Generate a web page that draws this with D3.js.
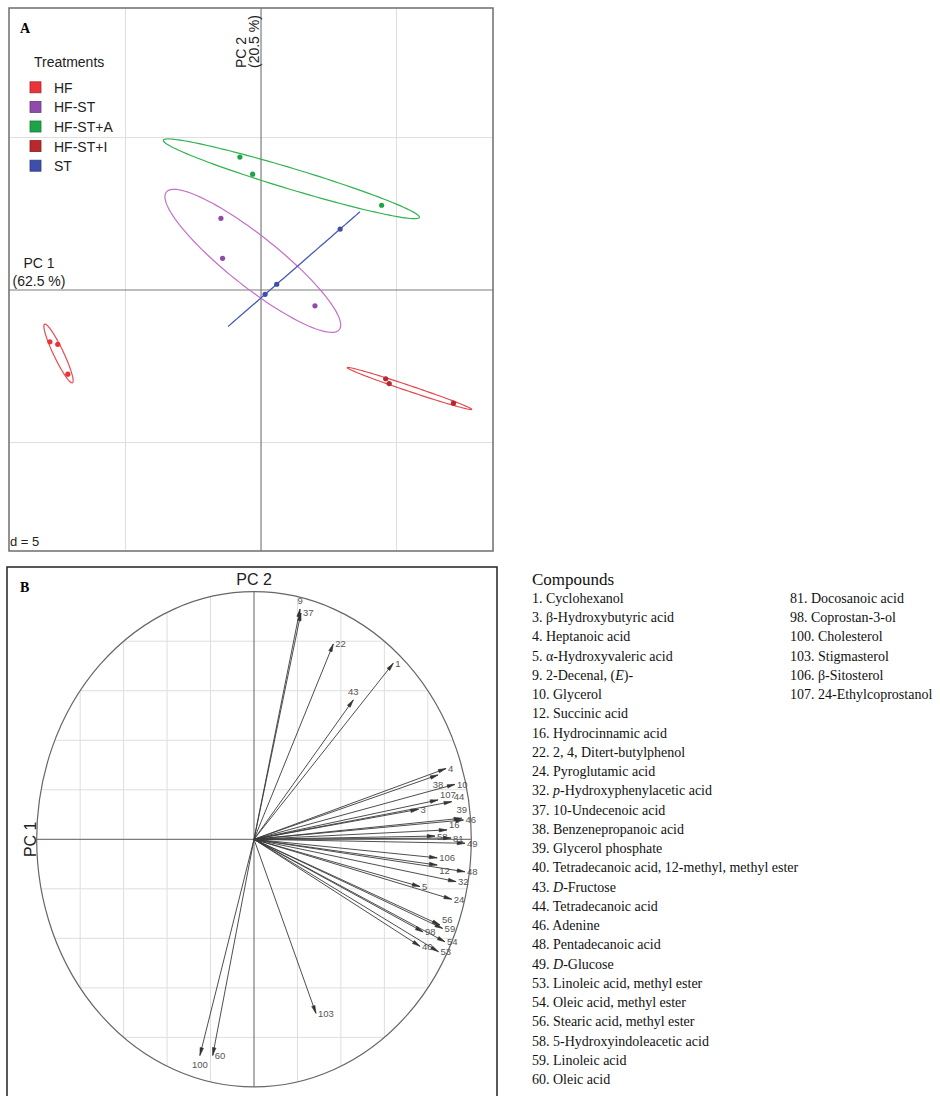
<!DOCTYPE html>
<html lang="en">
  <head>
    <meta charset="UTF-8" />
    <script src="https://d3js.org/d3.v7.min.js"></script>
    <style>
      body { margin: 0; background: #fff; }
      text { font-family: "Liberation Sans", Arial, sans-serif; }
      .serif { font-family: "Liberation Serif", "Times New Roman", serif; }
      .grid { stroke: #dedede; stroke-width: 1; fill: none; }
      .axis0 { stroke: #7c7c7c; stroke-width: 1.2; fill: none; }
    </style>
    <title>PCA scores and loadings</title>
  </head>
  <body>
    <svg id="fig" width="940" height="1096"></svg>
    <script>
      // ---------- data: panel A (scores) ----------
      const treatments = ["HF", "HF-ST", "HF-ST+A", "HF-ST+I", "ST"];
      const treatmentColors = ["#e8333a", "#8e4bab", "#1ea34a", "#b8282c", "#3d4fa8"];
      const ellipseColors = ["#ea4a50", "#c470c8", "#2fb34e", "#e4474c", "#4656b8"];
      // PC1, PC2 of the three samples per group
      const scoresHF = [[-7.79, -1.70], [-7.50, -1.78], [-7.13, -2.76]];
      const scoresHFST = [[-1.48, 2.35], [-1.42, 1.04], [1.99, -0.52]];
      const scoresHFSTA = [[-0.78, 4.36], [-0.31, 3.80], [4.45, 2.78]];
      const scoresHFSTI = [[4.60, -2.91], [4.73, -3.07], [7.10, -3.71]];
      const scoresST = [[2.92, 2.00], [0.58, 0.19], [0.15, -0.14]];
      const scoreGroups = [scoresHF, scoresHFST, scoresHFSTA, scoresHFSTI, scoresST];
      const pc1LimA = [-9.3, 8.56];
      const pc2LimA = [-8.56, 9.25];
      const gridA = [-5, 5];

      // ---------- data: panel B (loadings) ----------
      const loadingIds = ["1", "3", "4", "5", "9", "10", "12", "16", "22", "24", "32",
        "37", "38", "39", "40", "43", "44", "46", "48", "49", "53", "54", "56", "58",
        "59", "60", "81", "98", "100", "103", "106", "107"];
      const loadingPC1 = [0.641, 0.757, 0.884, 0.764, 0.212, 0.925, 0.843, 0.888, 0.365, 0.910, 0.930,
        0.216, 0.847, 0.956, 0.764, 0.457, 0.910, 0.964, 0.971, 0.971, 0.849, 0.879, 0.856, 0.833,
        0.868, -0.190, 0.907, 0.778, -0.249, 0.285, 0.843, 0.847];
      const loadingPC2 = [0.711, 0.121, 0.286, -0.191, 0.930, 0.222, -0.104, 0.038, 0.789, -0.242, -0.171,
        0.914, 0.260, 0.085, -0.432, 0.563, 0.152, 0.078, -0.131, -0.016, -0.454, -0.414, -0.346, 0.013,
        -0.360, -0.873, 0.005, -0.374, -0.873, -0.703, -0.075, 0.159];
      // where the label sits relative to the arrow tip (default: right)
      const labelSide = { "9": "top", "43": "top", "100": "bottom", "38": "bottom",
        "39": "top", "56": "upright", "107": "upright", "12": "lowright",
        "16": "upright", "44": "upright" };
      const gridB = [-0.8, -0.6, -0.4, -0.2, 0.2, 0.4, 0.6, 0.8];

      // ---------- data: compound key ----------
      const compoundsCol1 = [
        "1. Cyclohexanol", "3. β-Hydroxybutyric acid", "4. Heptanoic acid",
        "5. α-Hydroxyvaleric acid", "9. 2-Decenal, (<i>E</i>)-", "10. Glycerol",
        "12. Succinic acid", "16. Hydrocinnamic acid", "22. 2, 4, Ditert-butylphenol",
        "24. Pyroglutamic acid", "32. <i>p</i>-Hydroxyphenylacetic acid", "37. 10-Undecenoic acid",
        "38. Benzenepropanoic acid", "39. Glycerol phosphate",
        "40. Tetradecanoic acid, 12-methyl, methyl ester", "43. <i>D</i>-Fructose",
        "44. Tetradecanoic acid", "46. Adenine", "48. Pentadecanoic acid", "49. <i>D</i>-Glucose",
        "53. Linoleic acid, methyl ester", "54. Oleic acid, methyl ester",
        "56. Stearic acid, methyl ester", "58. 5-Hydroxyindoleacetic acid", "59. Linoleic acid",
        "60. Oleic acid"];
      const compoundsCol2 = ["81. Docosanoic acid", "98. Coprostan-3-ol", "100. Cholesterol",
        "103. Stigmasterol", "106. β-Sitosterol", "107. 24-Ethylcoprostanol"];

      const svg = d3.select("#fig");

      // ================= panel A =================
      const boxA = { left: 9, top: 8, right: 493, bottom: 551 };
      const xA = d3.scaleLinear().domain(pc1LimA).range([boxA.left, boxA.right]);
      const yA = d3.scaleLinear().domain(pc2LimA).range([boxA.bottom, boxA.top]);
      const gA = svg.append("g").attr("id", "panelA");

      gA.selectAll("line.gx").data(gridA).join("line").attr("class", "grid")
        .attr("x1", d => xA(d)).attr("x2", d => xA(d))
        .attr("y1", boxA.top).attr("y2", boxA.bottom);
      gA.selectAll("line.gy").data(gridA).join("line").attr("class", "grid")
        .attr("y1", d => yA(d)).attr("y2", d => yA(d))
        .attr("x1", boxA.left).attr("x2", boxA.right);
      gA.append("line").attr("class", "axis0")
        .attr("x1", xA(0)).attr("x2", xA(0)).attr("y1", boxA.top).attr("y2", boxA.bottom);
      gA.append("line").attr("class", "axis0")
        .attr("y1", yA(0)).attr("y2", yA(0)).attr("x1", boxA.left).attr("x2", boxA.right);

      // ellipse from the covariance of each group (2 sd)
      function groupEllipse(pts, k) {
        const n = pts.length;
        const mx = d3.mean(pts, p => p[0]), my = d3.mean(pts, p => p[1]);
        const vx = d3.sum(pts, p => (p[0] - mx) ** 2) / n;
        const vy = d3.sum(pts, p => (p[1] - my) ** 2) / n;
        const cxy = d3.sum(pts, p => (p[0] - mx) * (p[1] - my)) / n;
        const tr = vx + vy, det = vx * vy - cxy * cxy;
        const disc = Math.sqrt(Math.max(tr * tr / 4 - det, 0));
        const l1 = tr / 2 + disc, l2 = Math.max(tr / 2 - disc, 0);
        let ex = cxy, ey = l1 - vx;
        if (Math.hypot(ex, ey) < 1e-12) { ex = 1; ey = 0; }
        const nr = Math.hypot(ex, ey); ex /= nr; ey /= nr;
        const a = k * Math.sqrt(l1), b = k * Math.sqrt(l2);
        return d3.range(0, 121).map(i => {
          const t = (2 * Math.PI * i) / 120;
          return [mx + a * Math.cos(t) * ex - b * Math.sin(t) * ey,
                  my + a * Math.cos(t) * ey + b * Math.sin(t) * ex];
        });
      }
      const ellLine = d3.line().x(d => xA(d[0])).y(d => yA(d[1]));

      gA.selectAll("path.ell").data(scoreGroups).join("path").attr("class", "ell")
        .attr("d", d => ellLine(groupEllipse(d, 2)))
        .attr("fill", "none")
        .attr("stroke", (d, i) => ellipseColors[i])
        .attr("stroke-width", 1.2);

      scoreGroups.forEach((g, i) => {
        gA.selectAll("circle.pt" + i).data(g).join("circle").attr("class", "pt" + i)
          .attr("cx", d => xA(d[0])).attr("cy", d => yA(d[1])).attr("r", 2.6)
          .attr("fill", treatmentColors[i]);
      });

      gA.append("rect").attr("x", boxA.left).attr("y", boxA.top)
        .attr("width", boxA.right - boxA.left).attr("height", boxA.bottom - boxA.top)
        .attr("fill", "none").attr("stroke", "#6e6e6e").attr("stroke-width", 1.5);

      // axis titles
      gA.append("text").attr("x", 39).attr("y", 268).attr("text-anchor", "middle")
        .attr("font-size", 14).attr("fill", "#222").text("PC 1");
      gA.append("text").attr("x", 39).attr("y", 286).attr("text-anchor", "middle")
        .attr("font-size", 14).attr("fill", "#222").text("(62.5 %)");
      gA.append("text").attr("transform", "translate(246,68) rotate(-90)")
        .attr("font-size", 14).attr("fill", "#222").text("PC 2");
      gA.append("text").attr("transform", "translate(259,68) rotate(-90)")
        .attr("font-size", 14).attr("fill", "#222").text("(20.5 %)");
      gA.append("text").attr("x", 10).attr("y", 546).attr("font-size", 13)
        .attr("fill", "#222").text("d = 5");
      gA.append("text").attr("class", "serif").attr("x", 20).attr("y", 33)
        .attr("font-size", 14).attr("font-weight", "bold").text("A");

      // legend
      const legend = gA.append("g").attr("transform", "translate(30,0)");
      legend.append("text").attr("x", 4).attr("y", 67).attr("font-size", 14)
        .attr("fill", "#222").text("Treatments");
      const rows = legend.selectAll("g.row").data(treatments).join("g").attr("class", "row")
        .attr("transform", (d, i) => `translate(0,${87.3 + i * 19.6})`);
      rows.append("rect").attr("x", 0).attr("y", -5.5).attr("width", 11).attr("height", 11)
        .attr("fill", (d, i) => treatmentColors[i])
        .attr("stroke", (d, i) => d3.color(treatmentColors[i]).darker(0.8))
        .attr("stroke-width", 0.8);
      rows.append("text").attr("x", 24).attr("y", 5.5).attr("font-size", 14)
        .attr("fill", "#222").text(d => d);

      // ================= panel B =================
      const boxB = { left: 7, top: 567, right: 497, bottom: 1110 };
      const xB = d3.scaleLinear().domain([-1, 1]).range([36.7, 471.3]);
      const yB = d3.scaleLinear().domain([-1, 1]).range([1086.9, 591.7]);
      const gB = svg.append("g").attr("id", "panelB");
      const rx = xB(1) - xB(0), ry = yB(0) - yB(1);

      svg.append("defs").append("clipPath").attr("id", "circClip")
        .append("ellipse").attr("cx", xB(0)).attr("cy", yB(0)).attr("rx", rx).attr("ry", ry);

      const gridG = gB.append("g").attr("clip-path", "url(#circClip)");
      gridG.selectAll("line.gx").data(gridB).join("line").attr("class", "grid")
        .attr("x1", d => xB(d)).attr("x2", d => xB(d)).attr("y1", yB(1)).attr("y2", yB(-1));
      gridG.selectAll("line.gy").data(gridB).join("line").attr("class", "grid")
        .attr("y1", d => yB(d)).attr("y2", d => yB(d)).attr("x1", xB(-1)).attr("x2", xB(1));
      gridG.append("line").attr("class", "axis0")
        .attr("x1", xB(0)).attr("x2", xB(0)).attr("y1", yB(1)).attr("y2", yB(-1));
      gridG.append("line").attr("class", "axis0")
        .attr("y1", yB(0)).attr("y2", yB(0)).attr("x1", xB(-1)).attr("x2", xB(1));
      gB.append("ellipse").attr("cx", xB(0)).attr("cy", yB(0)).attr("rx", rx).attr("ry", ry)
        .attr("fill", "none").attr("stroke", "#666").attr("stroke-width", 1.2);

      const loadings = loadingIds.map((id, i) => ({ id, pc1: loadingPC1[i], pc2: loadingPC2[i] }));
      const arrows = gB.selectAll("g.arrow").data(loadings).join("g").attr("class", "arrow");
      arrows.append("line")
        .attr("x1", xB(0)).attr("y1", yB(0))
        .attr("x2", d => xB(d.pc1)).attr("y2", d => yB(d.pc2))
        .attr("stroke", "#3a3a3a").attr("stroke-width", 0.9);
      arrows.append("path")
        .attr("d", d => {
          const tx = xB(d.pc1), ty = yB(d.pc2);
          const ang = Math.atan2(ty - yB(0), tx - xB(0));
          const len = 8, spread = 0.22;
          const p1 = [tx - len * Math.cos(ang - spread), ty - len * Math.sin(ang - spread)];
          const p2 = [tx - len * Math.cos(ang + spread), ty - len * Math.sin(ang + spread)];
          return `M${p1}L${tx},${ty}L${p2}Z`;
        })
        .attr("fill", "#333").attr("stroke", "#333").attr("stroke-width", 0.6);
      arrows.append("text")
        .attr("x", d => {
          const side = labelSide[d.id];
          if (side === "top" || side === "bottom") return xB(d.pc1);
          return xB(d.pc1) + 2;
        })
        .attr("y", d => {
          const side = labelSide[d.id];
          if (side === "top") return yB(d.pc2) - 5;
          if (side === "bottom") return yB(d.pc2) + 13;
          if (side === "upright") return yB(d.pc2) - 2;
          if (side === "lowright") return yB(d.pc2) + 9;
          return yB(d.pc2) + 3.5;
        })
        .attr("text-anchor", d => {
          const side = labelSide[d.id];
          return side === "top" || side === "bottom" ? "middle" : "start";
        })
        .attr("font-size", 9.5).attr("fill", "#555").text(d => d.id);

      gB.append("rect").attr("x", boxB.left).attr("y", boxB.top)
        .attr("width", boxB.right - boxB.left).attr("height", boxB.bottom - boxB.top)
        .attr("fill", "none").attr("stroke", "#222").attr("stroke-width", 1.5);
      gB.append("text").attr("x", xB(0)).attr("y", 585).attr("text-anchor", "middle")
        .attr("font-size", 16).attr("fill", "#222").text("PC 2");
      gB.append("text").attr("transform", `translate(36,${yB(0)}) rotate(-90)`)
        .attr("text-anchor", "middle").attr("font-size", 16).attr("fill", "#222").text("PC 1");
      gB.append("text").attr("class", "serif").attr("x", 20).attr("y", 592)
        .attr("font-size", 14).attr("font-weight", "bold").text("B");

      // ================= compound key =================
      const key = svg.append("g").attr("class", "serif");
      key.append("text").attr("class", "serif").attr("x", 532).attr("y", 585)
        .attr("font-size", 17).attr("fill", "#111").text("Compounds");
      const rowY = d3.scaleLinear().domain([0, 25]).range([603, 1084]);

      function richText(sel, str) {
        str.split(/(<i>.*?<\/i>)/).filter(s => s.length).forEach(part => {
          const it = part.startsWith("<i>");
          sel.append("tspan").attr("font-style", it ? "italic" : "normal")
            .text(it ? part.slice(3, -4) : part);
        });
      }
      [[compoundsCol1, 532], [compoundsCol2, 790]].forEach(([col, x]) => {
        key.selectAll(null).data(col).join("text").attr("class", "serif")
          .attr("x", x).attr("y", (d, i) => rowY(i))
          .attr("font-size", 14).attr("fill", "#111")
          .each(function (d) { richText(d3.select(this), d); });
      });
    </script>
  </body>
</html>
